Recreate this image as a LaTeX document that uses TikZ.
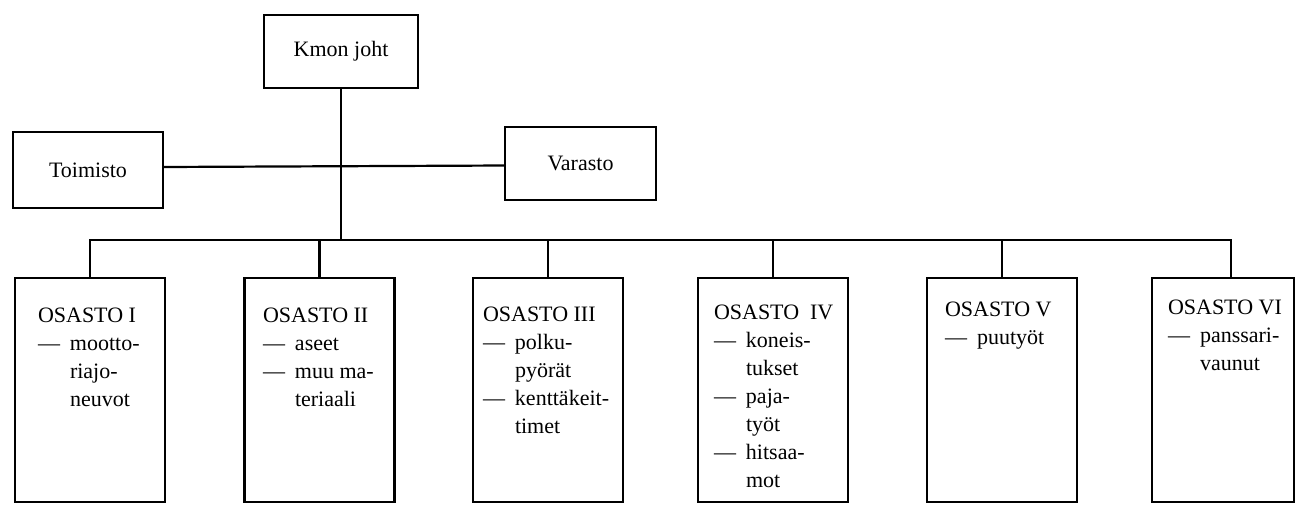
\documentclass[tikz,border=0pt]{standalone}
\usepackage{fontspec}
\setmainfont{Liberation Serif}
\usepackage{array}

\begin{document}
\begin{tikzpicture}[x=1pt,y=-1pt,
  every node/.style={outer sep=0pt, font=\fontsize{22}{28}\selectfont},
  unit/.style={draw, line width=2.8pt, inner sep=0pt},
  dept/.style={unit, minimum width=150pt, minimum height=224pt},
  depttext/.style={anchor=north west, inner sep=0pt},
  link/.style={line width=2.2pt}]
\useasboundingbox (0,0) rectangle (1298,504);

\node[unit, minimum width=154pt, minimum height=73pt] (kmon) at (341,51.5) {Kmon joht};
\node[unit, minimum width=150pt, minimum height=76pt] (toim) at (88,170) {Toimisto};
\node[unit, minimum width=151pt, minimum height=73pt] (var) at (580.5,163.5) {Varasto};

\node[dept] (o1) at (90,390) {};
\node[dept] (o2) at (319.5,390) {};
\node[dept] (o3) at (548,390) {};
\node[dept] (o4) at (773,390) {};
\node[dept] (o5) at (1002,390) {};
\node[dept, minimum width=142pt] (o6) at (1223,390) {};

\node[depttext] (t1) at (38,303) {\begin{tabular}{@{}p{32pt}@{}l@{}}
\multicolumn{2}{@{}l@{}}{OSASTO I}\\
— & mootto-\\
 & riajo-\\
 & neuvot
\end{tabular}};
\node[depttext] (t2) at (263,303) {\begin{tabular}{@{}p{32pt}@{}l@{}}
\multicolumn{2}{@{}l@{}}{OSASTO II}\\
— & aseet\\
— & muu ma-\\
 & teriaali
\end{tabular}};
\node[depttext] (t3) at (483,302) {\begin{tabular}{@{}p{32pt}@{}l@{}}
\multicolumn{2}{@{}l@{}}{OSASTO III}\\
— & polku-\\
 & pyörät\\
— & kenttäkeit-\\
 & timet
\end{tabular}};
\node[depttext] (t4) at (714,300) {\begin{tabular}{@{}p{32pt}@{}l@{}}
\multicolumn{2}{@{}l@{}}{OSASTO\ \ IV}\\
— & koneis-\\
 & tukset\\
— & paja-\\
 & työt\\
— & hitsaa-\\
 & mot
\end{tabular}};
\node[depttext] (t5) at (945,297) {\begin{tabular}{@{}p{32pt}@{}l@{}}
\multicolumn{2}{@{}l@{}}{OSASTO V}\\
— & puutyöt
\end{tabular}};
\node[depttext] (t6) at (1168,295) {\begin{tabular}{@{}p{32pt}@{}l@{}}
\multicolumn{2}{@{}l@{}}{OSASTO VI}\\
— & panssari-\\
 & vaunut
\end{tabular}};

\coordinate (bus) at (0,240);
\draw[link] ([yshift=3pt]toim.east) -- ([yshift=-2pt]var.west);
\draw[link] (kmon.south) -- (kmon.south |- bus);
\draw[link] (o1.north) -- (o1.north |- bus) -- ([xshift=8pt]o6.north |- bus) -- ([xshift=8pt]o6.north);
\draw[link] (o2.north) -- (o2.north |- bus);
\draw[link] (o3.north) -- (o3.north |- bus);
\draw[link] (o4.north) -- (o4.north |- bus);
\draw[link] (o5.north) -- (o5.north |- bus);
\end{tikzpicture}
\end{document}
